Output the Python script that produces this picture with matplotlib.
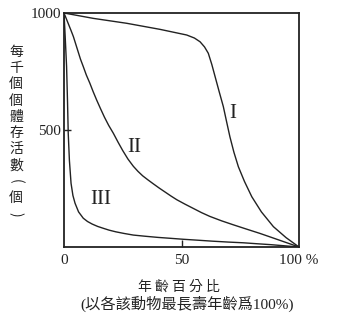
import matplotlib
matplotlib.use("Agg")
import matplotlib.pyplot as plt

# survivorship curves (age %, survivors per 1000)
type1_age = [0, 12.5, 26.7, 40.9, 52.2, 55.5, 57.9, 59.8, 61.4, 62.9, 64.3, 66, 67.8,
             69.2, 70.6, 72.3, 74.2, 76.8, 79.9, 84, 89.1, 94.5, 100]
type1_surv = [1000, 977, 956, 930, 906, 893, 877, 855, 828, 780, 728, 665, 600,
              535, 471, 405, 343, 280, 215, 150, 87, 40, 0]

type2_age = [0, 1, 2, 3, 4, 5, 6, 7, 8.2, 9.5, 11, 12.4, 13.9, 15.5, 17.2, 19, 21, 23, 25,
             27.2, 29.5, 31.5, 33.5, 35.7, 38, 40.5, 43, 45.5, 48, 51.5, 55, 58.5, 62,
             67, 72, 77.5, 83.4, 88, 92, 96, 100]
type2_surv = [1000, 975, 950, 925, 899, 867, 835, 803, 771, 735, 700, 664, 628, 592, 555,
              520, 486, 448, 412, 376, 345, 323, 304, 287, 270, 252, 235, 218, 202, 183,
              165, 147, 131, 112, 95, 77, 58, 42, 28, 14, 0]

type3_age = [0, 0.5, 1.1, 1.5, 1.8, 2.3, 3, 3.8, 4.7, 6.2, 8.2, 10, 12, 14.3, 16.7, 19.2,
             22, 25.5, 29.5, 34.5, 40, 45.5, 50.8, 57, 63, 70, 76.3, 82, 88, 94, 100]
type3_surv = [1000, 900, 771, 620, 486, 370, 272, 220, 187, 150, 123, 109, 98, 88, 80, 72,
              65, 58, 51, 46, 41, 37, 33, 29, 25, 21, 18, 14, 10, 5, 0]

curve_names = ["I", "II", "III"]
name_pos = [(72, 572), (30, 427), (15.5, 201)]

xticks = [0, 50, 100]
xtick_labels = ["0", "50", "100 %"]
yticks = [500, 1000]
ytick_labels = ["500", "1000"]

ylabel_chars = ["每", "千", "個", "個", "體", "存", "活", "數", "(", "個", ")"]
xlabel = "年 齡 百 分 比"
xnote = "(以各該動物最長壽年齡爲100%)"

serif = ["Liberation Serif", "Noto Sans CJK TC"]
cjk = ["Noto Sans CJK TC", "DejaVu Sans"]

fig = plt.figure(figsize=(3.43, 3.21), dpi=100)
ax = fig.add_axes([64 / 343, 1 - 247 / 321, 235 / 343, 234 / 321])

for xs, ys in [(type1_age, type1_surv), (type2_age, type2_surv), (type3_age, type3_surv)]:
    ax.plot(xs, ys, color="#222222", lw=1.0, solid_joinstyle="round")

for name, (x, y) in zip(curve_names, name_pos):
    ax.text(x, y, name, family=serif, fontsize=15, ha="center", va="center", color="#222222")

ax.set_xlim(0, 100)
ax.set_ylim(0, 1000)
ax.set_xticks(xticks)
ax.set_xticklabels(xtick_labels, family=serif, fontsize=11)
ax.set_yticks(yticks)
ax.set_yticklabels(ytick_labels, family=serif, fontsize=11)
ax.tick_params(direction="in", length=5, width=1, colors="#222222", pad=5)
ax.tick_params(axis="y", pad=2)
# only the middle ticks carry a mark
for i in (0, 2):
    ax.xaxis.get_major_ticks()[i].tick1line.set_visible(False)
ax.yaxis.get_major_ticks()[1].tick1line.set_visible(False)

for s in ax.spines.values():
    s.set_linewidth(1.3)
    s.set_color("#222222")

# vertical y label, one character per row; brackets turned for vertical writing
for i, ch in enumerate(ylabel_chars):
    py = 52 + i * 16.2
    rot = -90 if ch in "()" else 0
    fig.text(16 / 343, 1 - py / 321, ch, family=cjk, fontsize=10, rotation=rot,
             ha="center", va="center", color="#222222")

fig.text(179 / 343, 1 - 287 / 321, xlabel, family=cjk, fontsize=10,
         ha="center", va="center", color="#222222")
fig.text(187 / 343, 1 - 304 / 321, xnote, family=serif, fontsize=11,
         ha="center", va="center", color="#222222")

fig.savefig("out.png", dpi=100)
